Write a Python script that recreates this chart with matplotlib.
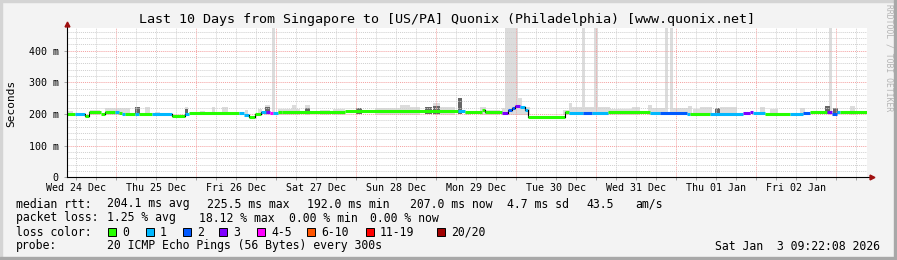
import matplotlib
matplotlib.use("Agg")
import matplotlib.pyplot as plt
import matplotlib.dates as mdates
from matplotlib.patches import Rectangle
import pandas as pd

MONO = "DejaVu Sans Mono"
W, H = 897, 260

t_start = pd.Timestamp("2025-12-24 09:22:08")
t_end = pd.Timestamp("2026-01-03 09:22:08")

# median rtt as steps: hour (after t_start) where the step begins, rtt in ms, loss class
step_hours = [0.0, 2.4, 5.4, 6.6, 10.2, 11.4, 14.4, 15.6, 16.5, 17.4, 20.4, 21.6,
              25.5, 31.5, 35.4, 36.6, 51.6, 53.1, 54.6, 56.4, 58.2, 59.7, 60.9,
              61.8, 63.3, 64.5, 83.4, 117.3, 119.4, 124.5, 125.4, 130.5, 132.3,
              133.5, 134.4, 135.9, 137.4, 138.3, 149.4, 150.6, 154.8, 157.5,
              162.3, 174.9, 177.9, 186.0, 186.9, 192.9, 202.8, 204.9, 205.8,
              209.4, 216.9, 220.8, 222.9, 228.0, 229.5, 231.0, 231.9]
step_rtt = [200, 200, 193, 205, 201, 207, 207, 204, 201, 201, 201, 201,
            201, 193, 200, 203, 202, 198, 192, 200, 205, 207, 204,
            204, 207, 205, 208, 208, 207, 211, 206, 204, 212,
            220, 225, 222, 211, 192, 206, 203, 203, 203,
            205, 204, 203, 200, 200, 201, 203, 206, 202,
            199, 201, 204, 205, 205, 201, 205, 205]
step_loss = [0, 1, 0, 0, 0, 0, 1, 0, 1, 0, 1, 0,
             1, 0, 1, 0, 1, 1, 0, 0, 1, 3, 4,
             1, 0, 0, 0, 1, 0, 0, 0, 3, 2,
             2, 3, 1, 1, 0, 0, 1, 2, 1,
             0, 1, 2, 1, 0, 1, 3, 3, 1,
             0, 1, 2, 0, 3, 2, 1, 0]
end_hour = 240.0

# smoke (spread of the 20 pings): start hour, end hour, top in ms
smoke_start = [0.0, 6.9, 11.4, 17.4, 23.4, 26.4, 35.4, 39.9, 43.5, 46.5, 53.4, 57.3,
               59.4, 61.5, 63.3, 67.5, 71.4, 75.9, 79.8, 92.4, 96.9, 99.9, 102.9,
               109.8, 111.9, 114.9, 119.4, 123.9, 125.7, 130.5, 131.4, 135.3, 136.5,
               148.8, 150.6, 151.5, 154.5, 155.4, 158.1, 159.3, 162.9, 169.5, 174.3,
               175.5, 179.4, 180.9, 181.8, 186.3, 187.8, 189.9, 195.9, 198.0, 199.5,
               207.9, 210.9, 219.9, 228.6, 229.8, 234.9]
smoke_end = [1.8, 9.9, 17.4, 18.9, 24.9, 27.9, 36.3, 41.4, 44.4, 48.3, 54.3, 58.5,
             60.9, 62.4, 69.9, 68.7, 72.9, 78.9, 83.4, 96.9, 99.9, 102.9, 105.9,
             111.9, 114.9, 116.4, 120.9, 125.7, 129.9, 131.4, 135.3, 136.5, 138.9,
             150.6, 151.5, 154.5, 155.4, 158.1, 159.3, 162.9, 169.5, 171.9, 175.5,
             179.4, 180.3, 181.8, 186.3, 187.5, 189.9, 193.5, 198.0, 199.5, 201.0,
             209.4, 213.3, 221.4, 229.5, 231.3, 236.4]
smoke_top = [209, 212, 218, 220, 221, 207, 222, 208, 222, 221, 213, 216,
             228, 470, 215, 228, 228, 213, 215, 220, 218, 228, 221,
             235, 221, 222, 207, 221, 213, 218, 470, 249, 222,
             213, 235, 221, 470, 222, 470, 221, 215, 222, 228,
             218, 470, 470, 218, 225, 215, 221, 221, 222, 221,
             221, 216, 218, 470, 218, 225]

# denser part of the smoke close to the median
dark_start = [20.4, 35.4, 59.4, 71.4, 86.7, 107.4, 109.8, 117.3, 194.4, 227.4, 229.8]
dark_end = [21.9, 36.3, 60.9, 72.9, 88.5, 109.5, 111.9, 118.5, 195.9, 228.9, 231.3]
dark_top = [223, 215, 222, 218, 220, 222, 225, 249, 218, 225, 218]

loss_labels = ["0", "1", "2", "3", "4-5", "6-10", "11-19", "20/20"]
loss_colors = ["#26ff00", "#00b8ff", "#0059ff", "#7e00ff", "#ff00ff", "#ff5500",
               "#ff0000", "#a00000"]


def hx(h):
    return mdates.date2num(t_start + pd.Timedelta(hours=h))


fig = plt.figure(figsize=(W / 100, H / 100), dpi=100, facecolor="#f3f3f3")
# frame of the rrdtool picture
fig.add_artist(Rectangle((0, 1 - 2 / H), 1, 2 / H, color="#d4d4d4", transform=fig.transFigure))
fig.add_artist(Rectangle((0, 0), 2 / W, 1, color="#d4d4d4", transform=fig.transFigure))
fig.add_artist(Rectangle((0, 0), 1, 3 / H, color="#a8a8a8", transform=fig.transFigure))
fig.add_artist(Rectangle((1 - 3 / W, 0), 3 / W, 1, color="#a8a8a8", transform=fig.transFigure))

left, right, top, bottom = 67, 867, 28.5, 177.3
ax = fig.add_axes([left / W, 1 - bottom / H, (right - left) / W, (bottom - top) / H])
ax.set_facecolor("white")
ax.set_xlim(hx(0), hx(end_hour))
ax.set_ylim(0, 470)
for s in ax.spines.values():
    s.set_visible(False)

# smoke
for a, b, t in zip(smoke_start, smoke_end, smoke_top):
    ax.bar(hx(a), t - 198, width=hx(b) - hx(a), bottom=198, align="edge",
           color="#dcdcdc", linewidth=0, zorder=2)
for a, b, t in zip(dark_start, dark_end, dark_top):
    ax.bar(hx(a), t - 200, width=hx(b) - hx(a), bottom=200, align="edge",
           color="#666666", linewidth=0, zorder=2)

# grid
for d in pd.date_range("2025-12-24 12:00", "2026-01-03 06:00", freq="6h"):
    col = "#f4a0a0" if d.hour == 0 else "#cfcfcf"
    ax.axvline(mdates.date2num(d), color=col, lw=0.7, ls=(0, (1, 1)), zorder=2.5)
for v in range(20, 470, 20):
    col = "#f4a0a0" if v % 100 == 0 else "#cfcfcf"
    ax.axhline(v, color=col, lw=0.7, ls=(0, (1, 1)), zorder=2.5)

# median rtt line coloured by loss
bounds = step_hours + [end_hour]
for i in range(len(step_hours)):
    x0, x1 = hx(bounds[i]), hx(bounds[i + 1])
    ax.plot([x0, x1], [step_rtt[i], step_rtt[i]], color=loss_colors[step_loss[i]],
            lw=2.2, solid_capstyle="butt", zorder=4)
    if i + 1 < len(step_hours) and abs(step_rtt[i + 1] - step_rtt[i]) > 4:
        ax.plot([x1, x1], [step_rtt[i], step_rtt[i + 1]], color="black", lw=0.8, zorder=4)

# axes with arrows
ax.plot([0, 1.006], [0, 0], color="black", lw=0.8, transform=ax.transAxes, clip_on=False, zorder=5)
ax.plot([0, 0], [0, 1.03], color="black", lw=0.8, transform=ax.transAxes, clip_on=False, zorder=5)
ax.plot([1.006], [0], marker=">", ms=3.5, color="#a01010", transform=ax.transAxes, clip_on=False, zorder=5)
ax.plot([0], [1.03], marker="^", ms=3.5, color="#a01010", transform=ax.transAxes, clip_on=False, zorder=5)

noons = pd.date_range("2025-12-24 12:00", "2026-01-02 12:00", freq="D")
ax.set_xticks([mdates.date2num(d) for d in noons])
ax.set_xticklabels([d.strftime("%a %d %b") for d in noons], fontfamily=MONO, fontsize=7.2)
ax.set_xticks([mdates.date2num(d) for d in pd.date_range("2025-12-24 12:00", "2026-01-03 06:00", freq="6h")], minor=True)
ax.tick_params(axis="x", which="both", length=2, width=0.6, color="#999999", pad=2)
ax.set_yticks([0, 100, 200, 300, 400])
ax.set_yticklabels(["0", "100 m", "200 m", "300 m", "400 m"], fontfamily=MONO, fontsize=7.2)
ax.tick_params(axis="y", length=2, width=0.6, color="#999999", pad=4)
ax.set_ylabel("Seconds", fontfamily=MONO, fontsize=8)
ax.yaxis.set_label_coords(-(left - 16) / (right - left), 0.5)

fig.text(447 / W, 1 - 19.5 / H, "Last 10 Days from Singapore to [US/PA] Quonix (Philadelphia) [www.quonix.net]",
         ha="center", va="center", fontfamily=MONO, fontsize=9.6)
fig.text(889 / W, 1 - 58 / H, "RRDTOOL / TOBI OETIKER", rotation=270, ha="center", va="center",
         fontfamily=MONO, fontsize=5.8, color="#b4b4b4")


def txt(x, y, s, **kw):
    fig.text(x / W, 1 - y / H, s, va="center", fontfamily=MONO, fontsize=8.3, **kw)


txt(16, 204, "median rtt:")
for x, s in [(107, "204.1 ms avg"), (207, "225.5 ms max"), (307, "192.0 ms min"),
             (410, "207.0 ms now"), (507, "4.7 ms sd"), (586, "43.5"), (635, "am/s")]:
    txt(x, 204, s)
txt(16, 218, "packet loss:")
for x, s in [(107, "1.25 % avg"), (199, "18.12 % max"), (289, "0.00 % min"), (370, "0.00 % now")]:
    txt(x, 218, s)
txt(16, 232, "loss color:")
sq_x = [108, 146, 183, 219, 257, 307, 366, 437]
for x, lab, col in zip(sq_x, loss_labels, loss_colors):
    fig.add_artist(Rectangle((x / W, 1 - 236 / H), 8 / W, 8 / H, facecolor=col,
                             edgecolor="black", lw=0.7, transform=fig.transFigure))
    txt(x + 14, 232, lab)
txt(16, 246, "probe:")
txt(107, 246, "20 ICMP Echo Pings (56 Bytes) every 300s")
txt(880, 246, "Sat Jan  3 09:22:08 2026", ha="right")

fig.savefig("out.png", dpi=100, facecolor=fig.get_facecolor())
